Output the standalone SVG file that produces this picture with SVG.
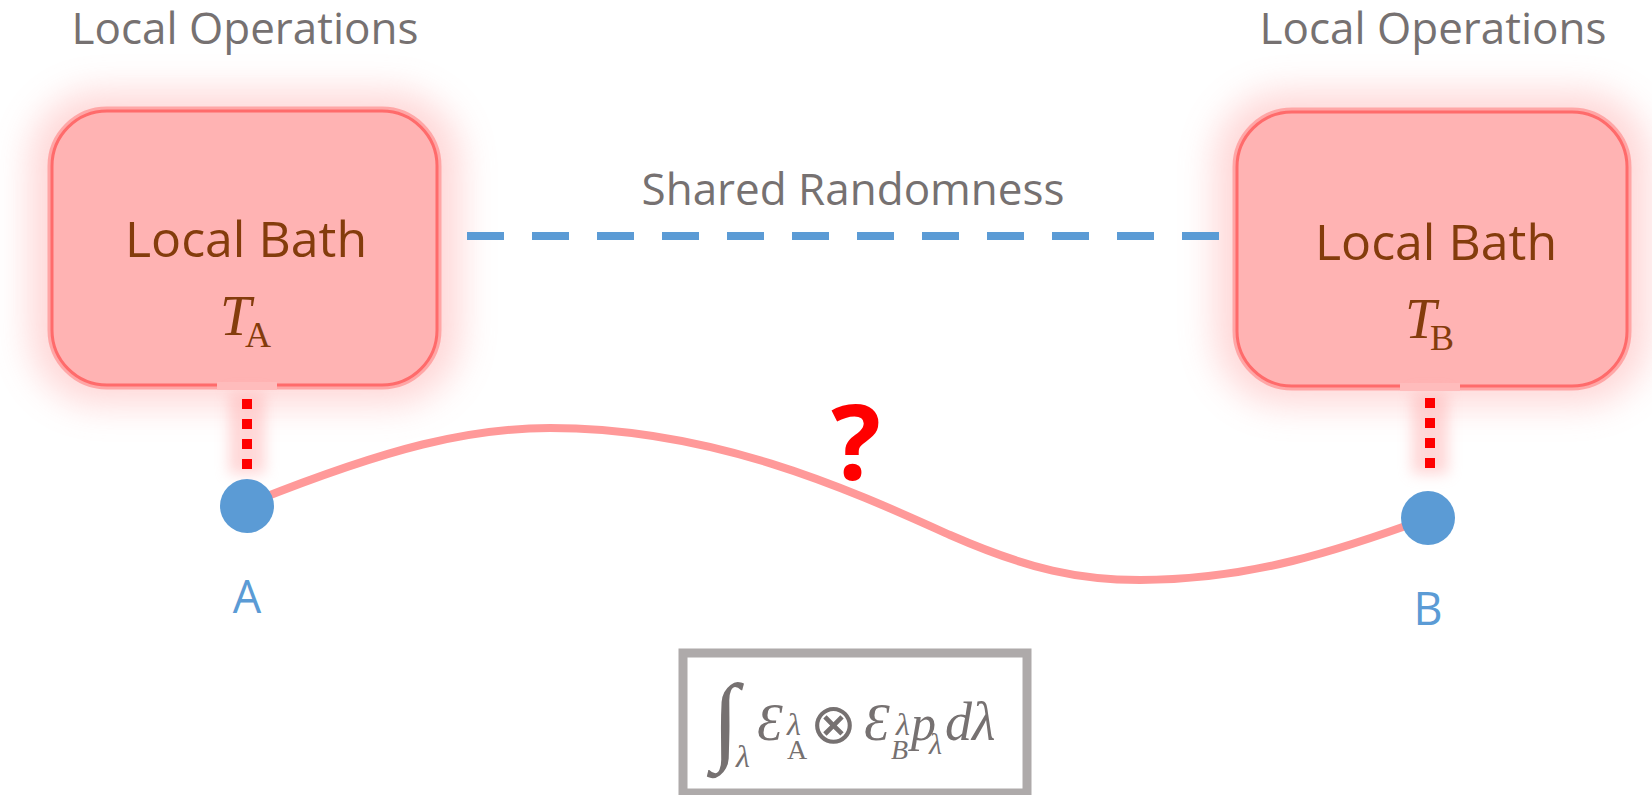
<svg xmlns="http://www.w3.org/2000/svg" width="1652" height="795" viewBox="0 0 1652 795">
  <defs>
    <filter id="glow" x="-40%" y="-40%" width="180%" height="180%">
      <feGaussianBlur stdDeviation="18"/>
    </filter>
    <filter id="glowS" x="-100%" y="-50%" width="300%" height="200%">
      <feGaussianBlur stdDeviation="7"/>
    </filter>
  </defs>
  <style>
    .lbl { font-family: "Open Sans", "Noto Sans", sans-serif; fill: #767171; }
    .bath { font-family: "Open Sans", "Noto Sans", sans-serif; fill: #843c0c; font-size: 50px; }
    .math { font-family: "Liberation Serif", "DejaVu Serif", serif; }
    .boxglow { fill: #ff9a9a; opacity: 0.4; }
    .ring { fill: none; stroke: #ffa6a6; stroke-width: 9; }
    .box { fill: #ffb3b3; stroke: #ff6b6b; stroke-width: 3; }
    .node { fill: #5b9bd5; }
    .nlbl { font-family: "Open Sans", "Noto Sans", sans-serif; fill: #5b9bd5; font-size: 45px; }
    .dots { stroke: #ff0000; stroke-width: 10; stroke-dasharray: 10 10; fill: none; }
  </style>

  <text class="lbl" x="245" y="44" font-size="44" text-anchor="middle">Local Operations</text>
  <text class="lbl" x="1433" y="44" font-size="44" text-anchor="middle">Local Operations</text>
  <text class="lbl" x="853" y="205" font-size="44" text-anchor="middle">Shared Randomness</text>

  <g id="bathA">
    <rect class="boxglow" x="30" y="92" width="430" height="312" rx="70" filter="url(#glow)"/>
    <rect class="ring" x="52" y="111" width="385" height="274" rx="55"/>
    <rect class="box" x="52" y="111" width="385" height="274" rx="55"/>
    <text class="bath" x="246" y="257" text-anchor="middle">Local Bath</text>
    <text class="math" fill="#843c0c" x="220" y="335" font-size="56" font-style="italic">T</text>
    <text class="math" fill="#843c0c" x="245" y="347" font-size="36">A</text>
  </g>

  <g id="bathB">
    <rect class="boxglow" x="1215" y="92" width="434" height="312" rx="70" filter="url(#glow)"/>
    <rect class="ring" x="1237" y="112" width="390" height="274" rx="55"/>
    <rect class="box" x="1237" y="112" width="390" height="274" rx="55"/>
    <text class="bath" x="1436" y="260" text-anchor="middle">Local Bath</text>
    <text class="math" fill="#843c0c" x="1405" y="338" font-size="56" font-style="italic">T</text>
    <text class="math" fill="#843c0c" x="1430" y="350" font-size="36">B</text>
  </g>

  <g id="connectors">
    <line x1="467" y1="236" x2="1222" y2="236" stroke="#5b9bd5" stroke-width="8" stroke-dasharray="37 28"/>
    <rect x="229" y="392" width="36" height="82" fill="#ffb0b0" opacity="0.5" filter="url(#glowS)"/>
    <rect x="217" y="382" width="60" height="8" fill="#ffbcbc"/>
    <line class="dots" x1="247" y1="399" x2="247" y2="470"/>
    <rect x="1412" y="392" width="36" height="82" fill="#ffb0b0" opacity="0.5" filter="url(#glowS)"/>
    <rect x="1400" y="383" width="60" height="8" fill="#ffbcbc"/>
    <line class="dots" x1="1430" y1="398" x2="1430" y2="469"/>
    <path d="M 250 503 C 390 447 470 428 550 428 C 715 428 850 490 950 535 C 1030 570 1080 580 1140 580 C 1250 580 1340 550 1428 518" fill="none" stroke="#ff9999" stroke-width="8"/>
    <text x="856" y="480" font-family="Open Sans, Noto Sans, sans-serif" font-weight="bold" font-size="104" fill="#ff0000" text-anchor="middle">?</text>
  </g>

  <g id="nodeA">
    <circle class="node" cx="247" cy="506" r="27"/>
    <text class="nlbl" x="247" y="613" text-anchor="middle">A</text>
  </g>
  <g id="nodeB">
    <circle class="node" cx="1428" cy="518" r="27"/>
    <text class="nlbl" x="1428" y="625" text-anchor="middle">B</text>
  </g>

  <g id="formula">
    <rect x="683" y="653" width="344" height="140" fill="#ffffff" stroke="#aeaaaa" stroke-width="9"/>
    <g class="math" fill="#767171">
      <text x="712" y="752" font-size="98" font-style="italic">∫</text>
      <text x="736" y="767" font-size="32" font-style="italic">λ</text>
      <text x="757" y="740" font-size="52" font-style="italic">Ɛ</text>
      <text x="787" y="735" font-size="32" font-style="italic">λ</text>
      <text x="787" y="759" font-size="28">A</text>
      <text x="810" y="743" font-size="56" font-family="DejaVu Sans" font-weight="200">⊗</text>
      <text x="864" y="740" font-size="52" font-style="italic">Ɛ</text>
      <text x="896" y="735" font-size="32" font-style="italic">λ</text>
      <text x="891" y="759" font-size="28" font-style="italic">B</text>
      <text x="911" y="740" font-size="50" font-style="italic">p</text>
      <text x="929" y="754" font-size="30" font-style="italic">λ</text>
      <text x="945" y="740" font-size="54" font-style="italic">dλ</text>
    </g>
  </g>
</svg>
